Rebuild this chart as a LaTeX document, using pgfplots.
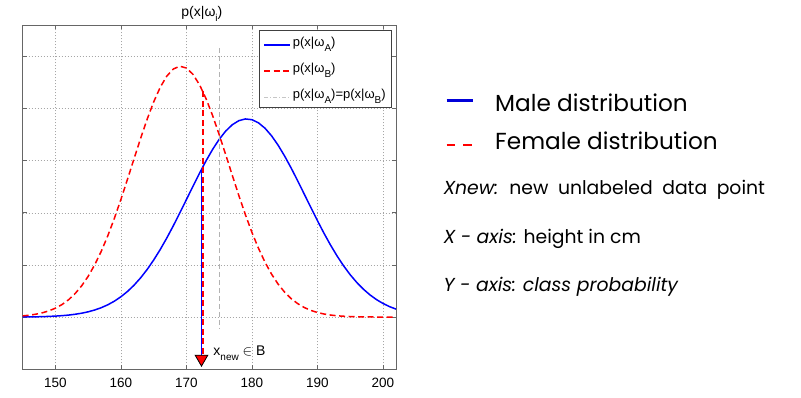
\documentclass[border=0pt]{standalone}
\usepackage{pgfplots}
\pgfplotsset{compat=1.18}
\usepackage{fontspec}
\setmainfont{Liberation Sans}
\newfontfamily\gothic{Poppins}
\newcommand{\lsub}[1]{\raisebox{-0.7ex}{\fontsize{10}{11}\selectfont #1}}
\begin{document}
\begin{tikzpicture}
\useasboundingbox (0pt,0pt) rectangle (801pt,398pt);
\begin{axis}[
  at={(22.7pt,28.7pt)}, anchor=south west,
  scale only axis, width=373.3pt, height=344.3pt,
  xmin=145, xmax=202, ymin=-1, ymax=5.6,
  xtick={150,160,170,180,190,200},
  ytick={0,1,2,3,4,5}, yticklabels={},
  /pgf/number format/assume math mode=true,
  ticklabel style={font=\fontsize{13.5}{15}\selectfont},
  xticklabel style={yshift=-5pt},
  tick align=inside, major tick length=4pt,
  tick style={gray!80!black, line width=0.6pt},
  axis line style={gray!80!black, line width=0.8pt},
  grid=major,
  major grid style={gray!70, line width=0.5pt, dash pattern=on 1pt off 2pt},
  title={p(x|ω\lsub{i})},
  title style={font=\fontsize{14}{15}\selectfont, at={(0.48,1)}, anchor=south, yshift=-5pt, inner sep=2pt},
  legend style={at={(1,1)}, anchor=north east, xshift=-4pt, yshift=-5pt,
    draw=black!75, line width=0.6pt, fill=white,
    font=\fontsize{13}{15}\selectfont, inner xsep=4pt, inner ysep=5pt,
    row sep=11pt, cells={anchor=west}},
  legend image code/.code={\draw[#1] (0pt,-2.5pt) -- (26pt,-2.5pt);},
]
\addlegendimage{draw=blue, line width=1.8pt}
\addlegendentry{p(x|ω\lsub{A})}
\addlegendimage{draw=red, line width=1.8pt, dash pattern=on 6pt off 3.5pt}
\addlegendentry{p(x|ω\lsub{B})}
\addlegendimage{draw=gray!45, line width=0.8pt, dash pattern=on 4pt off 2pt on 1pt off 2pt}
\addlegendentry{p(x|ω\lsub{A})=p(x|ω\lsub{B})}
\addplot[blue, line width=1.5pt, forget plot] coordinates {
(145,0.003)(146,0.004)(147,0.006)(148,0.009)(149,0.014)(150,0.020)
(151,0.028)(152,0.039)(153,0.055)(154,0.075)(155,0.102)(156,0.137)
(157,0.181)(158,0.237)(159,0.306)(160,0.391)(161,0.492)(162,0.612)
(163,0.752)(164,0.913)(165,1.095)(166,1.296)(167,1.516)(168,1.752)
(169,2.000)(170,2.254)(171,2.509)(172,2.759)(173,2.997)(174,3.216)
(175,3.408)(176,3.567)(177,3.688)(178,3.766)(179,3.799)(180,3.785)
(181,3.725)(182,3.621)(183,3.476)(184,3.296)(185,3.087)(186,2.856)
(187,2.610)(188,2.356)(189,2.101)(190,1.850)(191,1.609)(192,1.382)
(193,1.173)(194,0.983)(195,0.814)(196,0.666)(197,0.538)(198,0.429)
(199,0.338)(200,0.263)(201,0.202)(202,0.154)};
\addplot[red, line width=1.5pt, dash pattern=on 6pt off 3.5pt, forget plot] coordinates {
(145,0.024)(146,0.037)(147,0.056)(148,0.083)(149,0.120)(150,0.172)
(151,0.241)(152,0.333)(153,0.451)(154,0.600)(155,0.783)(156,1.004)
(157,1.263)(158,1.561)(159,1.895)(160,2.258)(161,2.642)(162,3.036)
(163,3.425)(164,3.793)(165,4.126)(166,4.406)(167,4.620)(168,4.757)
(169,4.810)(170,4.775)(171,4.654)(172,4.455)(173,4.186)(174,3.863)
(175,3.500)(176,3.114)(177,2.720)(178,2.333)(179,1.965)(180,1.625)
(181,1.320)(182,1.052)(183,0.824)(184,0.633)(185,0.478)(186,0.354)
(187,0.258)(188,0.184)(189,0.129)(190,0.089)(191,0.060)(192,0.040)
(193,0.026)(194,0.017)(195,0.011)(196,0.007)(197,0.004)(198,0.003)
(199,0.002)(200,0.001)(201,0.001)(202,0.000)};
\addplot[gray!60, line width=0.8pt, dash pattern=on 5pt off 3pt, forget plot] coordinates {(175.1,5.16)(175.1,-0.21)};
\addplot[red, line width=1.5pt, dash pattern=on 6pt off 3.5pt, forget plot] coordinates {(172.55,4.33)(172.55,-0.75)};
\addplot[blue, line width=1.5pt, forget plot] coordinates {(172.3,2.83)(172.3,-0.75)};
\addplot[only marks, mark=triangle*, mark size=7.3pt, forget plot,
  mark options={rotate=180, fill=red, draw=black, line width=0.8pt}] coordinates {(172.3,-0.8)};
\node[anchor=base west, inner sep=0pt, font=\fontsize{14}{16}\selectfont] at (axis cs:174.1,-0.74) {x\raisebox{-0.7ex}{\fontsize{10}{11}\selectfont new} $\in$ B};
\end{axis}
% right-hand annotation
\draw[blue!85!black, line width=2.7pt] (446.7pt,297.3pt) -- (473.3pt,297.3pt);
\draw[red, line width=2.7pt, dash pattern=on 8.5pt off 8pt] (446.7pt,253pt) -- (473.3pt,253pt);
\node[anchor=base west, inner sep=0pt, font=\gothic\fontsize{23.2}{26}\selectfont] at (495pt,286.3pt) {Male distribution};
\node[anchor=base west, inner sep=0pt, font=\gothic\fontsize{23.2}{26}\selectfont] at (495pt,248.7pt) {Female distribution};
\node[anchor=base west, inner sep=0pt, font=\gothic\fontsize{18.8}{20}\selectfont] at (443.3pt,203pt) {\spaceskip=9.5pt\textit{Xnew:} new unlabeled data point};
\node[anchor=base west, inner sep=0pt, font=\gothic\fontsize{18.8}{20}\selectfont] at (443.3pt,154.7pt) {\textit{X - axis:} height in cm};
\node[anchor=base west, inner sep=0pt, font=\gothic\fontsize{18.8}{20}\selectfont] at (443.3pt,106.3pt) {\textit{Y - axis:} \textit{class probability}};
\end{tikzpicture}
\end{document}
